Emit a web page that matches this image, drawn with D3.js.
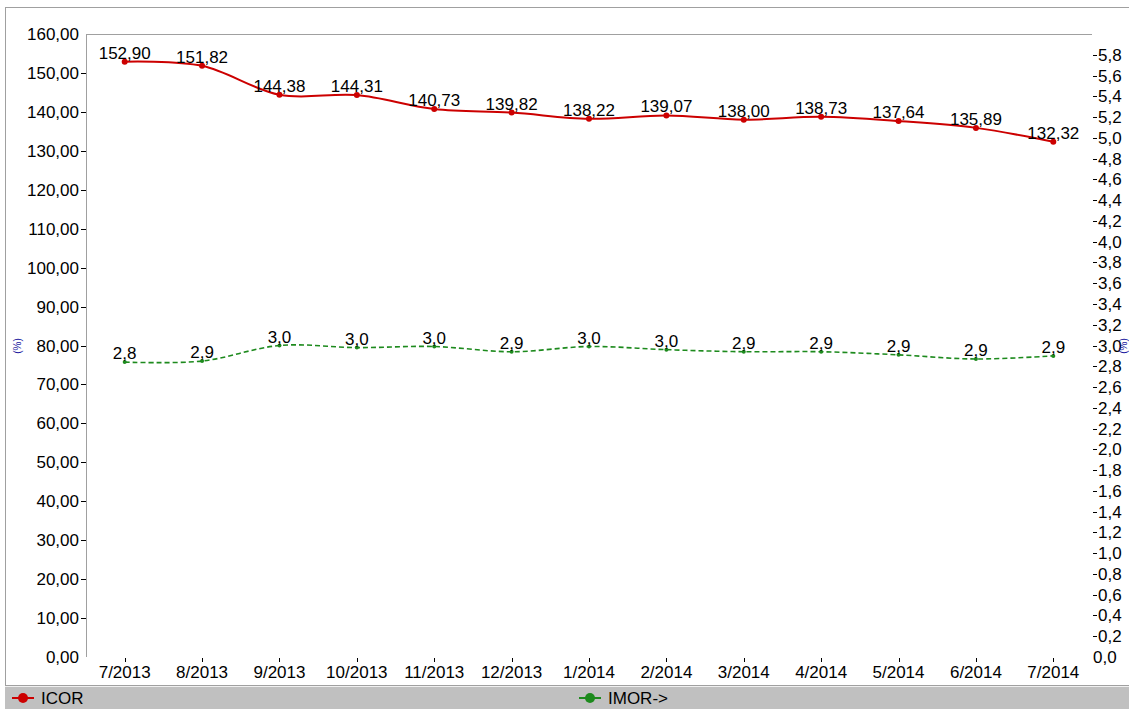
<!DOCTYPE html>
<html>
<head>
<meta charset="utf-8">
<script src="https://cdn.jsdelivr.net/npm/d3@7"></script>
<style>
  html, body { margin: 0; padding: 0; background: #fff; overflow: hidden; }
  svg { display: block; font-family: 'Liberation Sans', Arial, sans-serif; }
</style>
</head>
<body>
<div id="chart"></div>
<script>
// data
const months = ['7/2013', '8/2013', '9/2013', '10/2013', '11/2013', '12/2013',
  '1/2014', '2/2014', '3/2014', '4/2014', '5/2014', '6/2014', '7/2014'];
const icor = [152.90, 151.82, 144.38, 144.31, 140.73, 139.82, 138.22,
  139.07, 138.00, 138.73, 137.64, 135.89, 132.32];
const imor = [2.84, 2.85, 3.00, 2.98, 2.99, 2.94, 2.99, 2.96, 2.94, 2.94,
  2.91, 2.87, 2.90];
const leftTicks = d3.range(0, 161, 10);
const rightTicks = d3.range(0, 30).map(d => +(d * 0.2).toFixed(1));

// dimensions
const WIDTH = 1129;
const HEIGHT = 709;
const PLOT_LEFT = 86;
const PLOT_RIGHT = 1092;
const PLOT_TOP = 34;
const PLOT_BOTTOM = 657;
const FONT_SIZE = 17;
const RED = '#cc0000';
const GREEN = '#1d8a1d';

// helpers
const fmt2 = v => d3.format('.2f')(v).replace('.', ',');
const fmt1 = v => d3.format('.1f')(v).replace('.', ',');

// scales
const scaleX = d3.scalePoint().domain(months).range([PLOT_LEFT, PLOT_RIGHT]).padding(0.5);
const scaleY = d3.scaleLinear().domain([0, 160]).range([PLOT_BOTTOM, PLOT_TOP]);
const scaleY2 = d3.scaleLinear().domain([0, 6]).range([PLOT_BOTTOM, PLOT_TOP]);

const $svg = d3.select('#chart').append('svg')
  .attr('width', WIDTH)
  .attr('height', HEIGHT);

// outer frame
$svg.append('rect')
  .attr('x', 5.5).attr('y', 7.5)
  .attr('width', WIDTH + 20).attr('height', HEIGHT)
  .attr('fill', '#fff').attr('stroke', '#a0a0a0');

// plot frame: top line and left axis line
$svg.append('line')
  .attr('x1', PLOT_LEFT).attr('x2', PLOT_RIGHT)
  .attr('y1', PLOT_TOP + 0.5).attr('y2', PLOT_TOP + 0.5)
  .attr('stroke', '#a0a0a0');
$svg.append('line')
  .attr('x1', PLOT_LEFT + 0.5).attr('x2', PLOT_LEFT + 0.5)
  .attr('y1', PLOT_TOP).attr('y2', PLOT_BOTTOM)
  .attr('stroke', '#a0a0a0');

// left axis
const $left = $svg.append('g').attr('class', 'g-axis-left');
$left.selectAll('line')
  .data(leftTicks.filter(d => d > 0 && d < 160))
  .join('line')
  .attr('x1', PLOT_LEFT - 5).attr('x2', PLOT_LEFT)
  .attr('y1', d => Math.round(scaleY(d)) + 0.5)
  .attr('y2', d => Math.round(scaleY(d)) + 0.5)
  .attr('stroke', '#000');
$left.selectAll('text')
  .data(leftTicks)
  .join('text')
  .attr('x', PLOT_LEFT - 7)
  .attr('y', d => scaleY(d) + 6)
  .attr('text-anchor', 'end')
  .attr('font-size', FONT_SIZE)
  .attr('fill', '#000')
  .text(fmt2);

// right axis
const $right = $svg.append('g').attr('class', 'g-axis-right');
$right.selectAll('line')
  .data(rightTicks.filter(d => d > 0))
  .join('line')
  .attr('x1', PLOT_RIGHT + 1).attr('x2', PLOT_RIGHT + 5)
  .attr('y1', d => Math.round(scaleY2(d)) + 0.5)
  .attr('y2', d => Math.round(scaleY2(d)) + 0.5)
  .attr('stroke', '#000');
$right.selectAll('text')
  .data(rightTicks)
  .join('text')
  .attr('x', d => (d > 0 ? PLOT_RIGHT + 6 : PLOT_RIGHT + 1))
  .attr('y', d => scaleY2(d) + 6)
  .attr('font-size', FONT_SIZE)
  .attr('fill', '#000')
  .text(fmt1);

// unit labels
$svg.append('text')
  .attr('transform', 'translate(21, 346) rotate(-90)')
  .attr('text-anchor', 'middle')
  .attr('font-size', 10)
  .attr('fill', '#1a1aa0')
  .text('(%)');
$svg.append('text')
  .attr('transform', 'translate(1127, 346) rotate(-90)')
  .attr('text-anchor', 'middle')
  .attr('font-size', 10)
  .attr('fill', '#1a1aa0')
  .text('(%)');

// x axis
const $xaxis = $svg.append('g').attr('class', 'g-axis-x');
$xaxis.selectAll('line')
  .data(months)
  .join('line')
  .attr('x1', d => Math.round(scaleX(d)) + 0.5)
  .attr('x2', d => Math.round(scaleX(d)) + 0.5)
  .attr('y1', PLOT_BOTTOM + 1).attr('y2', PLOT_BOTTOM + 5)
  .attr('stroke', '#000');
$xaxis.selectAll('text')
  .data(months)
  .join('text')
  .attr('x', d => scaleX(d))
  .attr('y', PLOT_BOTTOM + 21)
  .attr('text-anchor', 'middle')
  .attr('font-size', FONT_SIZE)
  .attr('fill', '#000')
  .text(d => d);

// series
const series = [
  { name: 'ICOR', values: icor, y: scaleY, color: RED, width: 2, dash: null, r: 3, fmt: fmt2 },
  { name: 'IMOR', values: imor, y: scaleY2, color: GREEN, width: 1.6, dash: '5,3', r: 2, fmt: fmt1 },
];

const $vis = $svg.append('g').attr('class', 'g-vis');
series.forEach(s => {
  const line = d3.line()
    .x((d, i) => scaleX(months[i]))
    .y(d => s.y(d))
    .curve(d3.curveCardinal.tension(0));

  $vis.append('path')
    .datum(s.values)
    .attr('d', line)
    .attr('fill', 'none')
    .attr('stroke', s.color)
    .attr('stroke-width', s.width)
    .attr('stroke-dasharray', s.dash);

  $vis.selectAll(`.dot-${s.name}`)
    .data(s.values)
    .join('circle')
    .attr('class', `dot-${s.name}`)
    .attr('cx', (d, i) => scaleX(months[i]))
    .attr('cy', d => s.y(d))
    .attr('r', s.r)
    .attr('fill', s.color);

  $vis.selectAll(`.label-${s.name}`)
    .data(s.values)
    .join('text')
    .attr('class', `label-${s.name}`)
    .attr('x', (d, i) => scaleX(months[i]))
    .attr('y', d => s.y(d) - 3)
    .attr('text-anchor', 'middle')
    .attr('font-size', FONT_SIZE)
    .attr('fill', '#000')
    .text(s.fmt);
});

// legend bar
const $legend = $svg.append('g').attr('class', 'g-legend');
$legend.append('rect')
  .attr('x', 5).attr('y', 686)
  .attr('width', WIDTH).attr('height', 23)
  .attr('fill', '#c0c0c0');
$legend.append('line')
  .attr('x1', 5).attr('x2', WIDTH)
  .attr('y1', 685.5).attr('y2', 685.5)
  .attr('stroke', '#a0a0a0');
$legend.append('line')
  .attr('x1', 5).attr('x2', WIDTH)
  .attr('y1', 686.5).attr('y2', 686.5)
  .attr('stroke', '#f0f0f0');

const legendItems = [
  { label: 'ICOR', color: RED, x: 12 },
  { label: 'IMOR->', color: GREEN, x: 579 },
];
legendItems.forEach(d => {
  $legend.append('line')
    .attr('x1', d.x).attr('x2', d.x + 22)
    .attr('y1', 698).attr('y2', 698)
    .attr('stroke', d.color).attr('stroke-width', 2);
  $legend.append('circle')
    .attr('cx', d.x + 11).attr('cy', 698).attr('r', 5)
    .attr('fill', d.color);
  $legend.append('text')
    .attr('x', d.x + 29).attr('y', 704)
    .attr('font-size', FONT_SIZE)
    .attr('fill', '#000')
    .text(d.label);
});
</script>
</body>
</html>
